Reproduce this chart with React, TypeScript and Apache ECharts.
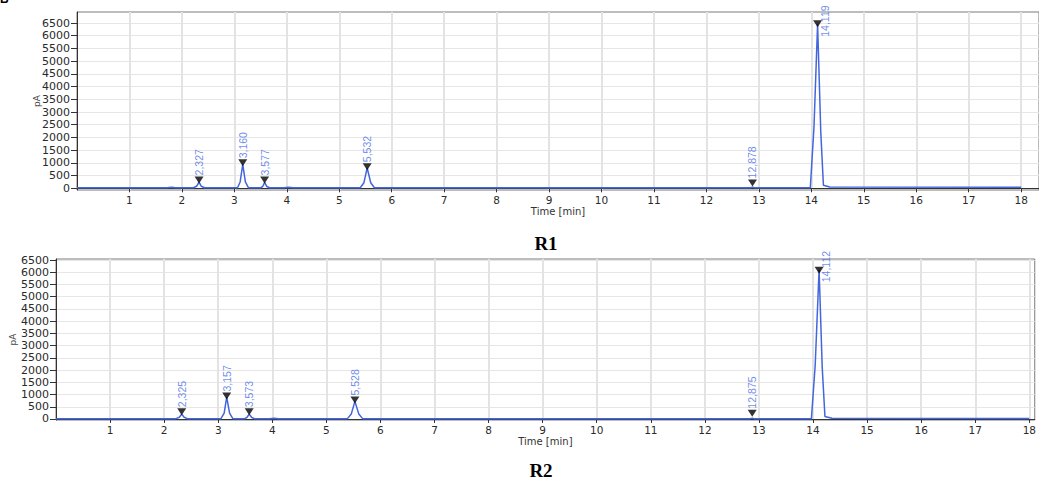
import React, { useEffect, useRef } from "react";
import * as echarts from "echarts";

const xTicks = [1, 2, 3, 4, 5, 6, 7, 8, 9, 10, 11, 12, 13, 14, 15, 16, 17, 18];
const yTicks = [0, 500, 1000, 1500, 2000, 2500, 3000, 3500, 4000, 4500, 5000, 5500, 6000, 6500];

// R1 chromatogram trace: [time (min), signal (pA)]
const r1Trace: [number, number][] = [
  [0, 20], [1.72, 20], [1.8, 45], [1.88, 20],
  [2.22, 20], [2.28, 80], [2.327, 240], [2.37, 80], [2.43, 20],
  [3.06, 20], [3.11, 250], [3.16, 940], [3.21, 250], [3.27, 20],
  [3.5, 20], [3.54, 70], [3.577, 230], [3.62, 70], [3.67, 20],
  [3.95, 20], [4.03, 45], [4.12, 20],
  [5.4, 20], [5.47, 220], [5.532, 800], [5.6, 220], [5.67, 20],
  [12.84, 20], [12.878, 45], [12.92, 20],
  [13.98, 20], [14.05, 2400], [14.119, 6450], [14.18, 2200], [14.23, 120], [14.35, 50], [18.0, 40],
];
const r1PeakTimes = [2.327, 3.16, 3.577, 5.532, 12.878, 14.119];
const r1PeakLabels = ["2,327", "3,160", "3,577", "5,532", "12,878", "14,119"];
const r1MarkerValues = [330, 1000, 330, 850, 210, 6470];

// R2 chromatogram trace
const r2Trace: [number, number][] = [
  [0, 15], [2.22, 15], [2.28, 70], [2.325, 200], [2.37, 70], [2.43, 15],
  [3.05, 15], [3.11, 240], [3.157, 890], [3.21, 240], [3.27, 15],
  [3.49, 15], [3.53, 60], [3.573, 200], [3.62, 60], [3.67, 15],
  [3.95, 15], [4.03, 35], [4.12, 15],
  [5.39, 15], [5.46, 200], [5.528, 720], [5.6, 200], [5.67, 15],
  [12.84, 15], [12.875, 35], [12.91, 15],
  [13.97, 15], [14.04, 2200], [14.112, 6100], [14.17, 2100], [14.22, 100], [14.35, 30], [18.0, 25],
];
const r2PeakTimes = [2.325, 3.157, 3.573, 5.528, 12.875, 14.112];
const r2PeakLabels = ["2,325", "3,157", "3,573", "5,528", "12,875", "14,112"];
const r2MarkerValues = [300, 940, 300, 775, 240, 6080];

const panelTitles = ["R1", "R2"];

const traceColor = "#4466dd";
const labelColor = "#4a6ee6";
const axisFont = "DejaVu Sans";

function markerData(times: number[], values: number[], labels: string[], bigIdx: number, bigPos: [number, number]) {
  return times.map((t, i) => {
    const item: any = { value: [t, values[i]], name: labels[i] };
    if (i === bigIdx) {
      item.label = { position: bigPos, distance: 0 };
    }
    return item;
  });
}

function makeXAxis(gridIndex: number, max: number, nameGap: number) {
  return {
    type: "value",
    gridIndex,
    min: 0,
    max,
    name: "Time [min]",
    nameLocation: "middle",
    nameGap,
    nameMoveOverlap: false,
    nameTextStyle: { fontFamily: axisFont, fontSize: 10, color: "#333" },
    axisLine: { show: true, lineStyle: { color: "#333", width: 1 } },
    axisTick: { show: true, length: 4, customValues: xTicks, lineStyle: { color: "#333" } },
    axisLabel: {
      customValues: xTicks,
      fontFamily: axisFont,
      fontSize: 10.5,
      color: "#2a2a2a",
      margin: 4,
      formatter: (v: number) => String(v),
    },
    splitLine: { show: true, lineStyle: { color: "#e3e3e3", width: 2 } },
  };
}

function makeYAxis(gridIndex: number, min: number, max: number, nameGap: number) {
  return {
    type: "value",
    gridIndex,
    min,
    max,
    name: "pA",
    nameLocation: "middle",
    nameGap,
    nameMoveOverlap: false,
    nameRotate: 90,
    nameTextStyle: { fontFamily: axisFont, fontSize: 9, color: "#444" },
    axisLine: { show: true, lineStyle: { color: "#333", width: 1 } },
    axisTick: { show: true, length: 6, customValues: yTicks, lineStyle: { color: "#333" } },
    axisLabel: {
      customValues: yTicks,
      fontFamily: axisFont,
      fontSize: 11,
      color: "#2a2a2a",
      margin: 7,
      formatter: (v: number) => String(v),
    },
    splitLine: { show: true, lineStyle: { color: "#e6e6e6", width: 1 } },
  };
}

const peakLabelStyle = {
  show: true,
  formatter: "{b}",
  position: "top",
  distance: 1,
  rotate: 90,
  align: "left",
  verticalAlign: "middle",
  color: labelColor,
  fontFamily: "Liberation Sans",
  fontSize: 10.5,
};

export default function App() {
  const ref = useRef<HTMLDivElement>(null);

  useEffect(() => {
    if (!ref.current) return;
    const chart = echarts.init(ref.current, null, { renderer: "svg" });
    const option: any = {
      animation: false,
      backgroundColor: "#ffffff",
      grid: [
        { left: 77, top: 12, width: 962, height: 178, show: true, borderColor: "#7a7a7a", borderWidth: 1, backgroundColor: "#ffffff" },
        { left: 53, top: 259, width: 986, height: 161, show: true, borderColor: "#7a7a7a", borderWidth: 1, backgroundColor: "#ffffff" },
      ],
      xAxis: [makeXAxis(0, 18.34, 16), makeXAxis(1, 18.1, 16)],
      yAxis: [makeYAxis(0, -67, 6933, 36), makeYAxis(1, -41, 6541, 39)],
      series: [
        {
          type: "line",
          xAxisIndex: 0,
          yAxisIndex: 0,
          data: r1Trace,
          showSymbol: false,
          symbol: "none",
          lineStyle: { color: traceColor, width: 1.5 },
        },
        {
          type: "scatter",
          xAxisIndex: 0,
          yAxisIndex: 0,
          symbol: "triangle",
          symbolRotate: 180,
          symbolSize: [9, 7],
          itemStyle: { color: "#000" },
          label: peakLabelStyle,
          data: markerData(r1PeakTimes, r1MarkerValues, r1PeakLabels, 5, [11.5, 16.5]),
          z: 5,
        },
        {
          type: "line",
          xAxisIndex: 1,
          yAxisIndex: 1,
          data: r2Trace,
          showSymbol: false,
          symbol: "none",
          lineStyle: { color: traceColor, width: 1.5 },
        },
        {
          type: "scatter",
          xAxisIndex: 1,
          yAxisIndex: 1,
          symbol: "triangle",
          symbolRotate: 180,
          symbolSize: [9, 7],
          itemStyle: { color: "#000" },
          label: peakLabelStyle,
          data: markerData(r2PeakTimes, r2MarkerValues, r2PeakLabels, 5, [11.5, 15.5]),
          z: 5,
        },
      ],
      graphic: [
        {
          type: "text",
          left: 0,
          top: -7,
          style: { text: "B", font: "bold 12px 'Liberation Sans'", fill: "#000" },
        },
        {
          type: "text",
          x: 546,
          y: 243,
          style: {
            text: panelTitles[0],
            font: "bold 19px 'Liberation Serif'",
            fill: "#000",
            textAlign: "center",
            textVerticalAlign: "middle",
          },
        },
        {
          type: "text",
          x: 541,
          y: 470,
          style: {
            text: panelTitles[1],
            font: "bold 19px 'Liberation Serif'",
            fill: "#000",
            textAlign: "center",
            textVerticalAlign: "middle",
          },
        },
      ],
    };
    chart.setOption(option);
    return () => chart.dispose();
  }, []);

  return (
    <div
      ref={ref}
      style={{ position: "fixed", left: 0, top: 0, width: 1039, height: 482, background: "#fff" }}
    />
  );
}
